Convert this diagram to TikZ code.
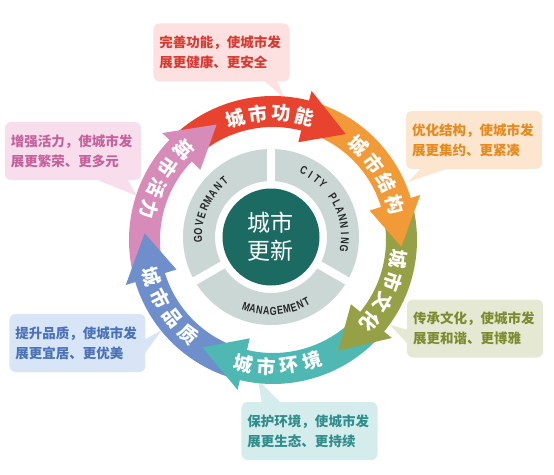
\documentclass[tikz,border=0pt]{standalone}
\usepackage{fontspec}
\newfontfamily\cjk{Noto Sans CJK SC}
\newfontfamily\lat{Liberation Sans}
\usepackage{tikz}
\usetikzlibrary{positioning}

\definecolor{redA}{HTML}{E8432E}
\definecolor{orangeA}{HTML}{F29A38}
\definecolor{oliveA}{HTML}{96A046}
\definecolor{tealA}{HTML}{4FB8B3}
\definecolor{blueA}{HTML}{6E8FCB}
\definecolor{pinkA}{HTML}{D68BB9}
\definecolor{funcFill}{HTML}{FCE1E0}
\definecolor{funcText}{HTML}{D83A33}
\definecolor{structFill}{HTML}{FDE6CF}
\definecolor{structText}{HTML}{E58A1F}
\definecolor{cultFill}{HTML}{E5E8D2}
\definecolor{cultText}{HTML}{7B8B30}
\definecolor{envFill}{HTML}{D5ECEC}
\definecolor{envText}{HTML}{2F8E8B}
\definecolor{qualFill}{HTML}{D8E5F7}
\definecolor{qualText}{HTML}{4B72B6}
\definecolor{vitalFill}{HTML}{F8DEEC}
\definecolor{vitalText}{HTML}{C5619D}
\definecolor{greyRing}{HTML}{CAD7D5}
\definecolor{coreCol}{HTML}{1B6B63}

\begin{document}
\begin{tikzpicture}[x=1pt, y=1pt]
    % Stili
    \tikzstyle{callout} = [rounded corners=6pt, text width=124pt, align=left, minimum height=58pt, inner xsep=6pt, font=\cjk\bfseries\fontsize{13.5}{20}\selectfont]
    \tikzstyle{ringtext} = [text=white, inner sep=0pt, font=\cjk\bfseries\fontsize{19}{19}\selectfont]
    \tikzstyle{letter} = [text=black!85, inner sep=0pt, font=\lat\bfseries\fontsize{11.5}{11.5}\selectfont]

    \useasboundingbox (-273,-234) rectangle (281,240);

    % Fumetti
    \node [callout, fill=funcFill, text=funcText] (func) at (-51.5,187.5) {完善功能，使城市发\\展更健康、更安全};
    \node [callout, fill=structFill, text=structText] (struct) at (201,100) {优化结构，使城市发\\展更集约、更紧凑};
    \node [callout, fill=vitalFill, text=vitalText] (vital) at (-200,89) {增强活力，使城市发\\展更繁荣、更多元};
    \node [callout, fill=cultFill, text=cultText] (cult) at (202,-88.5) {传承文化，使城市发\\展更和谐、更博雅};
    \node [callout, fill=qualFill, text=qualText] (qual) at (-195.5,-103) {提升品质，使城市发\\展更宜居、更优美};
    \node [callout, fill=envFill, text=envText] (env) at (36.5,-191) {保护环境，使城市发\\展更生态、更持续};

    \coordinate (funcTip) at (11,142);
    \coordinate (structTip) at (135,58);
    \coordinate (vitalTip) at (-136,44);
    \coordinate (cultTip) at (117,-85);
    \coordinate (qualTip) at (-111,-90);
    \coordinate (envTip) at (-15,-140);

    \fill [funcFill] ([xshift=41.5,yshift=2]func.south) -- (funcTip) -- ([xshift=55.5,yshift=2]func.south) -- cycle;
    \fill [structFill] ([xshift=-52,yshift=2]struct.south) -- (structTip) -- ([xshift=-22,yshift=2]struct.south) -- cycle;
    \fill [vitalFill] ([xshift=20,yshift=2]vital.south) -- (vitalTip) -- ([xshift=54,yshift=2]vital.south) -- cycle;
    \fill [cultFill] ([xshift=2,yshift=-1.5]cult.west) -- (cultTip) -- ([xshift=2,yshift=-16.5]cult.west) -- cycle;
    \fill [qualFill] ([xshift=-2,yshift=3]qual.east) -- (qualTip) -- ([xshift=-2,yshift=-12]qual.east) -- cycle;
    \fill [envFill] ([xshift=-47.5,yshift=-2]env.north) -- (envTip) -- ([xshift=-27.5,yshift=-2]env.north) -- cycle;

    % Frecce
    \foreach \t/\p/\col in {116/177/pinkA, 55.5/116/redA, -3/55.5/orangeA, -59.5/-3/oliveA, -123.3/-59.5/tealA, -183/-123.3/blueA}
        \fill [\col] ({\p+18}:144) arc[start angle=\p+18, end angle=\t+19, radius=144] -- ({\t+19}:113) arc[start angle=\t+19, end angle=\p+18, radius=113] -- cycle;
    \foreach \t/\col in {116/pinkA, 55.5/redA, -3/orangeA, -59.5/oliveA, -123.3/tealA, -183/blueA}
        \fill [\col] ({\t+20}:101) -- ({\t+20}:154) -- (\t:128.5) -- cycle;

    \foreach \c/\s/\txt in {91.5/1/{城,市,功,能}, 32/1/{城,市,结,构}, -24.3/1/{城,市,文,化}, 272.2/-1/{城,市,环,境}, 212.5/-1/{城,市,品,质}, 150.5/-1/{城,市,活,力}}
        \foreach \ch [count=\i] in \txt
            \node [ringtext, rotate={\c+(\s)*(2.5-\i)*10.5-(\s)*90}] at ({\c+(\s)*(2.5-\i)*10.5}:127) {\ch};

    % Centro
    \begin{scope}[shift={(-2,3)}]
        \fill [greyRing, even odd rule] (0,0) circle[radius=88] (0,0) circle[radius=56];
        \foreach \a in {90,210,330}
            \draw [white, line width=8pt] (\a:50) -- (\a:94);
        \node [circle, fill=coreCol, minimum size=97pt, inner sep=0pt, text=white, align=center, font=\cjk\fontsize{23}{28}\selectfont] (core) at (0,0) {城市\\更新};

        \foreach \ch [count=\i] in {G,O,V,E,R,M,A,N,T}
            \node [letter, rotate={182-(\i-1)*6.5-90}] at ({182-(\i-1)*6.5}:73) {\scalebox{0.78}[1]{\ch}};
        \foreach \ch [count=\i] in {C,I,T,Y,,P,L,A,N,N,I,N,G}
            \node [letter, rotate={63.8-(\i-1)*6.1-90}] at ({63.8-(\i-1)*6.1}:74) {\scalebox{0.78}[1]{\ch}};
        \foreach \ch [count=\i] in {M,A,N,A,G,E,M,E,N,T}
            \node [letter, rotate={250.4+(\i-1)*5.35+90}] at ({250.4+(\i-1)*5.35}:74) {\scalebox{0.78}[1]{\ch}};
    \end{scope}
\end{tikzpicture}
\end{document}
